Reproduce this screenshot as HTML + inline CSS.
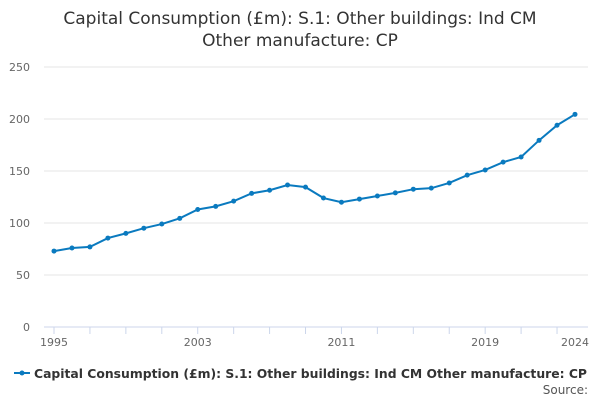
<!DOCTYPE html>
<html><head><meta charset="utf-8"><style>
body{margin:0;background:#fff;font-family:"Liberation Sans","DejaVu Sans",sans-serif}
svg text{font-family:"DejaVu Sans","Liberation Sans",sans-serif}
</style></head><body>
<svg id="c" width="600" height="400">
<text x="300" y="24" text-anchor="middle" font-size="17" fill="#333">Capital Consumption (£m): S.1: Other buildings: Ind CM</text>
<text x="300" y="46" text-anchor="middle" font-size="17" fill="#333">Other manufacture: CP</text>
<g id="grid"></g><g id="axes"></g><g id="series"></g>
<g>
<line x1="14" y1="373" x2="30" y2="373" stroke="#0a7abf" stroke-width="2"/>
<circle cx="22" cy="373" r="2.5" fill="#0a7abf"/>
<text x="34" y="378" font-size="12.5" font-weight="bold" fill="#333" textLength="553" lengthAdjust="spacingAndGlyphs">Capital Consumption (£m): S.1: Other buildings: Ind CM Other manufacture: CP</text>
</g>
<text x="588" y="394" text-anchor="end" font-size="12" fill="#555">Source:</text>
</svg>
<script>
const years=[1995,1996,1997,1998,1999,2000,2001,2002,2003,2004,2005,2006,2007,2008,2009,2010,2011,2012,2013,2014,2015,2016,2017,2018,2019,2020,2021,2022,2023,2024];
const values=[73,76,77,85.5,90,95,99,104.5,113,116,121,128.5,131.5,136.5,134.5,124,120,123,126,129,132.5,133.5,138.5,146,151,158.5,163.5,179.5,194,204.5];
const yTicks=[0,50,100,150,200,250];
const xLabels=[1995,2003,2011,2019,2024];
const NS="http://www.w3.org/2000/svg";
const x=v=>54+(v-1995)*(575-54)/29;
const y=v=>327-v*1.04;
function mk(t,a,p){const e=document.createElementNS(NS,t);for(const k in a)e.setAttribute(k,a[k]);p.appendChild(e);return e;}
const g=document.getElementById('grid'),ax=document.getElementById('axes'),s=document.getElementById('series');
yTicks.forEach(t=>{
 const l=mk('line',{x1:44,x2:588,y1:y(t),y2:y(t),stroke:t===0?'#ccd6eb':'#e6e6e6'},g);
 
 
 const tx=mk('text',{x:30,y:y(t)+4,'text-anchor':'end','font-size':11,fill:'#666'},ax);tx.textContent=t;
 
 
});
for(let yr=1995;yr<=2024;yr+=2){
 const l=mk('line',{x1:x(yr),x2:x(yr),y1:327,y2:334,stroke:'#ccd6eb'},ax);
 
 
}
xLabels.forEach(yr=>{
 const tx=mk('text',{x:x(yr),y:346,'text-anchor':'middle','font-size':11,fill:'#666'},ax);tx.textContent=yr;
 
 
});
const p=mk('polyline',{points:years.map((yr,i)=>x(yr)+','+y(values[i])).join(' '),fill:'none',stroke:'#0a7abf','stroke-width':2},s);


years.forEach((yr,i)=>{
 const c=mk('circle',{cx:x(yr),cy:y(values[i]),r:2.5,fill:'#0a7abf'},s);
 
 
});
</script>
</body></html>
